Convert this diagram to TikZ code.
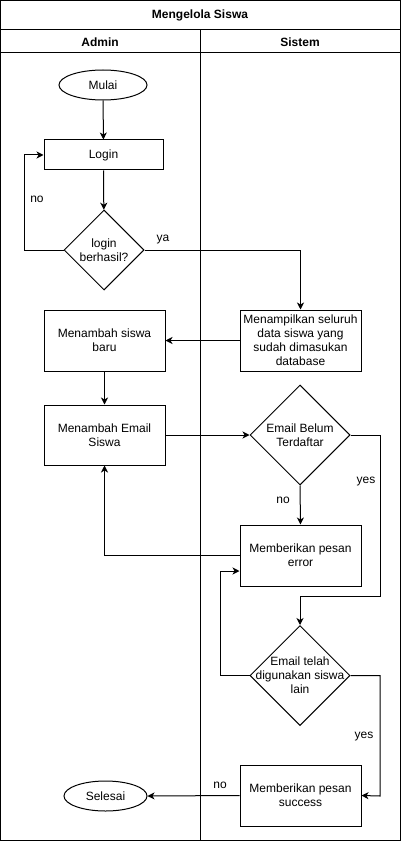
\documentclass[tikz,border=0pt]{standalone}
\usepackage{fontspec}
\setmainfont{Liberation Sans}
\usetikzlibrary{arrows.meta,shapes.geometric}

\begin{document}
\begin{tikzpicture}[x=1pt,y=-1pt,line width=1pt,
	>={Stealth[length=7pt,width=7pt,inset=2pt]},
	every node/.style={font=\fontsize{12}{14}\selectfont},
	proses/.style={draw,rectangle,minimum width=121pt,minimum height=61pt,inner sep=0pt,align=center},
	terminal/.style={draw,ellipse,minimum width=88pt,minimum height=30pt,inner sep=0pt},
	keputusan/.style={draw,diamond,minimum width=100pt,minimum height=100pt,inner sep=0pt},
	isi/.style={align=center,inner sep=0pt},
	ket/.style={inner sep=0pt},
	judul/.style={font=\fontsize{12}{14}\selectfont\bfseries}]

\useasboundingbox (0,0) rectangle (401,842);

% swimlane
\draw (0.5,0.5) rectangle (400,840);
\draw (0.5,30) -- (400,30);
\draw (0.5,53) -- (400,53);
\draw (200,30) -- (200,840);

\node[judul] (judul) at (200,15) {Mengelola Siswa};
\node[judul] (admin) at (100,42) {Admin};
\node[judul] (sistem) at (300,42) {Sistem};

% admin
\node[terminal] (mulai) at (103,85) {Mulai};
\node[proses,minimum width=119pt,minimum height=30pt] (login) at (103.5,155) {Login};
\node[keputusan,minimum width=80pt,minimum height=80pt] (cek) at (104,250) {};
\node[isi] (cektxt) at (cek) {login\\berhasil?};
\node[proses] (siswa) at (104.5,340.5) {Menambah siswa\\baru};
\node[proses,minimum height=60pt] (email) at (104.5,435) {Menambah Email\\Siswa};
\node[terminal,minimum width=83pt] (selesai) at (105.5,796) {Selesai};

% sistem
\node[proses] (tampil) at (300.5,340.5) {Menampilkan seluruh\\data siswa yang\\sudah dimasukan\\database};
\node[keputusan] (belum) at (300,435) {};
\node[isi] (belumtxt) at (belum) {Email Belum\\Terdaftar};
\node[proses] (error) at (300.5,555.5) {Memberikan pesan\\error};
\node[keputusan] (telah) at (300,675.5) {};
\node[isi] (telahtxt) at (telah) {Email telah\\digunakan siswa\\lain};
\node[proses] (sukses) at (300.5,795.5) {Memberikan pesan\\success};

% panah
\draw[->] (mulai) -- (login);
\draw[->] (login) -- (cek);
\draw[->] (cek.west) -| (24,155) -- (login.west);
\draw[->] (cek.east) -| (tampil.north);
\draw[->] (tampil.west) -- (siswa.east);
\draw[->] (siswa) -- (email);
\draw[->] (email.east) -- (belum.west);
\draw[->] (belum.south) -- (error.north);
\draw[->] (belum.east) -| (380,596) -| (telah.north);
\draw[->] (error.west) -| (email.south);
\draw[->] (telah.west) -| (220,571) -- (220,571 -| error.west);
\draw[->] (telah.east) -| (380,796) -- (sukses.east);
\draw[->] (sukses.west) -- (selesai.east);

\node[ket] (no1) at (37,199) {no};
\node[ket] (ya1) at (163,240) {ya};
\node[ket] (no2) at (283,500) {no};
\node[ket] (yes1) at (366,482) {yes};
\node[ket] (yes2) at (364,737) {yes};
\node[ket] (no3) at (220,785) {no};

\end{tikzpicture}
\end{document}
